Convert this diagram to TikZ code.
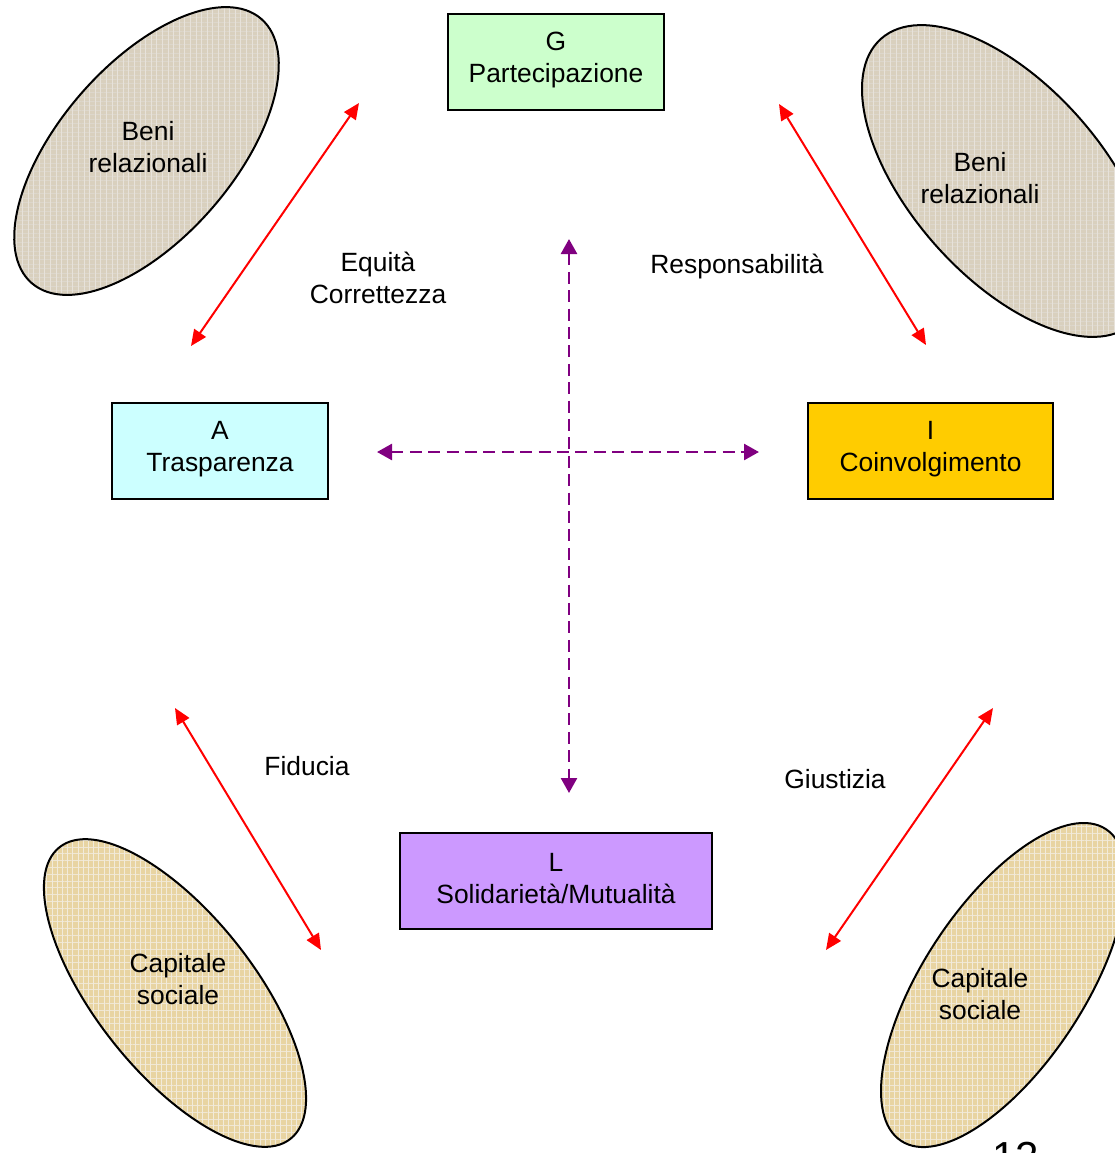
\documentclass[tikz,border=0pt]{standalone}
\usepackage{fontspec}
\setmainfont{Liberation Sans}
\usetikzlibrary{arrows.meta,shapes.geometric,patterns.meta}
\definecolor{beniC}{HTML}{D9D0BE}
\definecolor{beniL}{HTML}{C2B7A2}
\definecolor{capC}{HTML}{E8D4A2}
\definecolor{capL}{HTML}{D3BB83}
\definecolor{gGreen}{HTML}{CCFFCC}
\definecolor{aCyan}{HTML}{CCFFFF}
\definecolor{iGold}{HTML}{FFCC00}
\definecolor{lLilac}{HTML}{CC99FF}
\definecolor{purp}{HTML}{800080}
\tikzset{
  txt/.style={font=\fontsize{13.2}{16}\selectfont, align=center, inner sep=0pt},
  boxnode/.style={draw=black, line width=0.75pt, minimum height=48pt},
  ellnode/.style={ellipse, draw=black, line width=1pt, inner sep=0pt},
  beni/.style={ellnode, preaction={fill=beniC},
    preaction={pattern={Lines[angle=0,distance=2.2pt,line width=0.35pt]}, pattern color=beniL!55},
    preaction={pattern={Lines[angle=90,distance=2.8pt,line width=0.35pt]}, pattern color=beniL!40}},
  capit/.style={ellnode, preaction={fill=capC},
    preaction={pattern={Lines[angle=0,distance=3.4pt,line width=0.35pt]}, pattern color=capL!35},
    preaction={pattern={Lines[angle=90,distance=2.6pt,line width=0.35pt]}, pattern color=capL!30}},
  redarr/.style={draw=red, line width=1pt, {Triangle[length=8pt,width=7pt]}-{Triangle[length=8pt,width=7pt]}},
  purarr/.style={draw=purp, line width=1.3pt, dash pattern=on 6pt off 3.2pt, {Triangle[length=7.5pt,width=8pt]}-{Triangle[length=7.5pt,width=8pt]}}
}
\begin{document}
\begin{tikzpicture}[x=0.5pt,y=-0.5pt]
\useasboundingbox (0,0) rectangle (1115,1153);
% ellipses
\node[beni, minimum width=175pt, minimum height=87pt, rotate=49] (eTL) at (146.5,151) {};
\node[beni, minimum width=190pt, minimum height=96pt, rotate=-48.5] (eTR) at (1007,181) {};
\node[capit, minimum width=186pt, minimum height=79pt, rotate=-51.6] (eBL) at (175,993) {};
\node[capit, minimum width=186.5pt, minimum height=80.4pt, rotate=56.7] (eBR) at (1003.5,985) {};
\node[txt] (tTL) at (148,147) {Beni\\relazionali};
\node[txt] (tTR) at (980,178) {Beni\\relazionali};
\node[txt] (tBL) at (178,979) {Capitale\\sociale};
\node[txt] (tBR) at (980,994) {Capitale\\sociale};
% boxes
\node[boxnode, fill=gGreen, minimum width=108pt] (G) at (556,62) {};
\node[boxnode, fill=aCyan, minimum width=108pt] (A) at (220,451) {};
\node[boxnode, fill=iGold, minimum width=122.5pt] (I) at (930.5,451) {};
\node[boxnode, fill=lLilac, minimum width=156pt] (L) at (556,881) {};
\node[txt] (Gt) at (556,60) {G\\Partecipazione};
\node[txt] (At) at (220,449) {A\\Trasparenza};
\node[txt] (It) at (930.5,449) {I\\Coinvolgimento};
\node[txt] (Lt) at (556,879) {L\\Solidarietà/Mutualità};
% labels
\node[txt] (lEq) at (378,278) {Equità\\Correttezza};
\node[txt] (lResp) at (737,267) {Responsabilità};
\node[txt] (lFid) at (307,766) {Fiducia};
\node[txt] (lGiu) at (835,779) {Giustizia};
% arrow ends
\coordinate (r1a) at (191,346);
\coordinate (r1b) at (359,103);
\coordinate (r2a) at (779,104);
\coordinate (r2b) at (926,345);
\coordinate (r3a) at (175,708);
\coordinate (r3b) at (321,950);
\coordinate (r4a) at (993,708);
\coordinate (r4b) at (826,950);
\coordinate (vT) at (569,239);
\coordinate (vB) at (569,793);
\coordinate (hL) at (377,452);
\coordinate (hR) at (759,452);
\draw[redarr] (r1a) -- (r1b);
\draw[redarr] (r2a) -- (r2b);
\draw[redarr] (r3a) -- (r3b);
\draw[redarr] (r4a) -- (r4b);
\draw[purarr] (vT) -- (vB);
\draw[purarr] (hL) -- (hR);
% page number (cut off at the lower edge, as in the reference)
\node[font=\fontsize{21}{25}\selectfont, anchor=base, inner sep=0pt] (pg) at (1016,1171) {12};
\end{tikzpicture}
\end{document}
